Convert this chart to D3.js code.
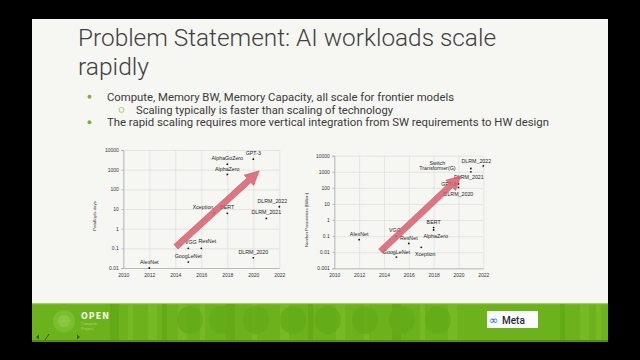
<!DOCTYPE html>
<html>

<head>
    <meta charset="utf-8">
    <style>
        body {
            margin: 0;
            background: #000;
        }

        svg {
            display: block;
        }

        .grid line {
            stroke: #d9d9d9;
            stroke-width: 0.6;
        }

        .grid .domain {
            display: none;
        }

        .axis text {
            font-family: "Liberation Sans", Arial, sans-serif;
            font-size: 5px;
            fill: #333;
        }

        .axis line,
        .axis .domain {
            stroke: #9a9a9a;
            stroke-width: 0.6;
        }

        .lbl {
            font-family: "Liberation Sans", Arial, sans-serif;
            font-size: 5.3px;
            fill: #222;
        }

        .axis-title {
            font-family: "Liberation Sans", Arial, sans-serif;
            font-size: 4.3px;
            fill: #333;
        }
    </style>
</head>

<body>
    <svg width="640" height="360"></svg>

    <script src="https://cdn.jsdelivr.net/npm/d3@7"></script>

    <script>
        // ---- data ----
        let xTicks = [2010, 2012, 2014, 2016, 2018, 2020, 2022]

        // left chart: compute
        let names1 = ["AlexNet", "VGG", "GoogLeNet", "ResNet", "Xception", "BERT",
            "AlphaGoZero", "AlphaZero", "GPT-3", "DLRM_2020", "DLRM_2021", "DLRM_2022"]
        let years1 = [2012, 2015, 2015, 2016, 2017, 2018, 2018, 2018, 2020, 2020, 2021, 2022]
        let pfsDays = [0.01, 0.1, 0.02, 0.1, 6.5, 6, 1900, 570, 3400, 0.033, 3.3, 13]
        let yTicks1 = [0.01, 0.1, 1, 10, 100, 1000, 10000]
        let yLabels1 = ["0.01", "0.1", "1", "10", "100", "1000", "10000"]

        // right chart: parameters
        let names2 = ["AlexNet", "VGG", "GoogLeNet", "ResNet", "Xception", "BERT",
            "AlphaZero", "GPT-3", "DLRM_2020", "Switch Transformer(G)", "DLRM_2021", "DLRM_2022"]
        let years2 = [2012, 2015, 2015, 2016, 2017, 2018, 2018, 2020, 2020, 2021, 2021, 2022]
        let paramsB = [0.06, 0.1, 0.005, 0.035, 0.02, 0.34, 0.24, 175, 107, 1600, 1000, 2300]
        let yTicks2 = [0.001, 0.01, 0.1, 1, 10, 100, 1000, 10000]
        let yLabels2 = ["0.001", "0.01", "0.1", "1", "10", "100", "1000", "10000"]

        // trend arrows, in data units [year, value]
        let arrow1 = [[2014.05, 0.12], [2020.46, 870]]
        let arrow2 = [[2013.74, 0.0117], [2020.2, 560]]

        let bullets = [
            "Compute, Memory BW, Memory Capacity, all scale for frontier models",
            "Scaling typically is faster than scaling of technology",
            "The rapid scaling requires more vertical integration from SW requirements to HW design"
        ]

        // label placement (dx, dy, anchor) per point -- just layout
        let place1 = {
            "AlexNet": [0, -6, "middle"], "VGG": [2.5, -6, "middle"], "GoogLeNet": [0, -6, "middle"],
            "ResNet": [6, -7, "middle"], "Xception": [-1, -6, "end"], "BERT": [0, -6, "middle"],
            "AlphaGoZero": [0, -6, "middle"], "AlphaZero": [0, -5.5, "middle"], "GPT-3": [0, -6.5, "middle"],
            "DLRM_2020": [0, -6, "middle"], "DLRM_2021": [0, -6, "middle"], "DLRM_2022": [-7, -6, "middle"]
        }
        let place2 = {
            "AlexNet": [0, -5.7, "middle"], "VGG": [-1.5, -6, "middle"], "GoogLeNet": [0, -5, "middle"],
            "ResNet": [0, -5.6, "middle"], "Xception": [4, 6.7, "middle"], "BERT": [0, -5.3, "middle"],
            "AlphaZero": [2, 6.3, "middle"], "GPT-3": [-2, 0, "end"], "DLRM_2020": [0, 7, "middle"],
            "Switch Transformer(G)": [-33.5, -3, "middle"], "DLRM_2021": [-2, 5, "middle"],
            "DLRM_2022": [-7, -5, "middle"]
        }

        let svg = d3.select("svg")

        // ---- slide frame ----
        svg.append("rect").attr("width", 640).attr("height", 360).attr("fill", "#000")
        svg.append("rect")
            .attr("x", 32).attr("y", 19).attr("width", 576).attr("height", 285)
            .attr("fill", "#f6f7f3")

        // title
        let title = svg.append("text")
            .style("font-family", "Roboto, 'Liberation Sans', sans-serif")
            .style("font-weight", 300)
            .style("font-size", "24px")
            .style("fill", "#404040")
        title.append("tspan").attr("x", 78).attr("y", 46)
            .attr("textLength", 418).attr("lengthAdjust", "spacingAndGlyphs")
            .text("Problem Statement: AI workloads scale")
        title.append("tspan").attr("x", 78).attr("y", 74.5)
            .attr("textLength", 71).attr("lengthAdjust", "spacingAndGlyphs")
            .text("rapidly")

        // bullets
        let bulletX = [107, 136, 107]
        let bulletY = [100.5, 113.5, 126]
        let bulletW = [347, 257, 442]
        bullets.forEach((b, i) => {
            svg.append("text")
                .attr("x", bulletX[i]).attr("y", bulletY[i])
                .attr("textLength", bulletW[i]).attr("lengthAdjust", "spacingAndGlyphs")
                .style("font-family", "Roboto, 'Liberation Sans', sans-serif")
                .style("font-size", "10.5px")
                .style("fill", "#3a3a3a")
                .text(b)
            if (i == 1) {
                svg.append("circle").attr("cx", 121.5).attr("cy", bulletY[i] - 3.6).attr("r", 2.5)
                    .attr("fill", "none").attr("stroke", "#9bc96a").attr("stroke-width", 0.9)
            } else {
                svg.append("circle").attr("cx", 89.5).attr("cy", bulletY[i] - 3.7).attr("r", 2)
                    .attr("fill", "#7ab32e")
            }
        })

        // ---- chart helper ----
        function drawChart(opt) {
            let x = d3.scaleLinear().domain([2010, 2022]).range(opt.xr)
            let y = d3.scaleLog().domain(opt.yd).range(opt.yr)
            let g = svg.append("g")

            // grid
            g.append("g").attr("class", "grid")
                .attr("transform", `translate(0,${opt.yr[0]})`)
                .call(d3.axisBottom(x).tickValues(xTicks).tickSize(-(opt.yr[0] - opt.yr[1])).tickFormat(""))
            g.append("g").attr("class", "grid")
                .attr("transform", `translate(${opt.xr[0]},0)`)
                .call(d3.axisLeft(y).tickValues(opt.yTicks).tickSize(-(opt.xr[1] - opt.xr[0])).tickFormat(""))

            // axes
            g.append("g").attr("class", "axis")
                .attr("transform", `translate(${opt.xr[0]},0)`)
                .call(d3.axisLeft(y).tickValues(opt.yTicks).tickSize(2).tickPadding(2.5)
                    .tickFormat((d, i) => opt.yLabels[i]))
            g.append("g").attr("class", "axis")
                .attr("transform", `translate(0,${opt.yr[0]})`)
                .call(d3.axisBottom(x).tickValues(xTicks).tickSize(0).tickPadding(5)
                    .tickFormat(d3.format("d")))

            g.append("text").attr("class", "axis-title")
                .attr("transform", `translate(${opt.titleX},${opt.titleY}) rotate(-90)`)
                .style("text-anchor", "middle")
                .text(opt.title)

            // points
            let pts = opt.names.map((n, i) => ({ name: n, year: opt.years[i], v: opt.vals[i] }))
            g.append("g").selectAll("circle")
                .data(pts)
                .join("circle")
                .attr("cx", d => x(d.year))
                .attr("cy", d => y(d.v))
                .attr("r", 0.9)
                .attr("fill", "#111")

            g.append("g").selectAll("text")
                .data(pts)
                .join("text")
                .attr("class", "lbl")
                .attr("x", d => x(d.year) + opt.place[d.name][0])
                .attr("y", d => y(d.v) + opt.place[d.name][1])
                .attr("dominant-baseline", "central")
                .style("text-anchor", d => opt.place[d.name][2])
                .each(function (d) {
                    let words = d.name.split(" ")
                    let t = d3.select(this)
                    if (words.length == 1) {
                        t.text(d.name)
                    } else {
                        words.forEach((w, k) => {
                            t.append("tspan")
                                .attr("x", x(d.year) + opt.place[d.name][0])
                                .attr("dy", k == 0 ? -2.8 : 5.6)
                                .text(w)
                        })
                    }
                })

            // trend arrow
            let p0 = [x(opt.arrow[0][0]), y(opt.arrow[0][1])]
            let p1 = [x(opt.arrow[1][0]), y(opt.arrow[1][1])]
            let ang = Math.atan2(p1[1] - p0[1], p1[0] - p0[0])
            let len = Math.hypot(p1[0] - p0[0], p1[1] - p0[1])
            let hl = 14, hw = 7, sw = 3
            let shape = [[0, -sw], [len - hl, -sw], [len - hl, -hw], [len, 0],
                [len - hl, hw], [len - hl, sw], [0, sw]]
            g.append("path")
                .attr("d", d3.line()(shape) + "Z")
                .attr("transform", `translate(${p0[0]},${p0[1]}) rotate(${ang * 180 / Math.PI})`)
                .attr("fill", "#d85f6b")
                .attr("fill-opacity", 0.85)
                .attr("stroke", "#c44e5b")
                .attr("stroke-width", 0.5)
        }

        drawChart({
            xr: [123.3, 279.3], yr: [268, 150], yd: [0.01, 10000],
            yTicks: yTicks1, yLabels: yLabels1,
            names: names1, years: years1, vals: pfsDays, place: place1,
            arrow: arrow1, title: "Petaflop/s-days", titleX: 96, titleY: 216
        })
        drawChart({
            xr: [334.3, 483.3], yr: [268.3, 155.7], yd: [0.001, 10000],
            yTicks: yTicks2, yLabels: yLabels2,
            names: names2, years: years2, vals: paramsB, place: place2,
            arrow: arrow2, title: "Number Parameters (Billion)", titleX: 308, titleY: 220
        })

        // ---- footer band ----
        let foot = svg.append("g")
        foot.append("rect").attr("x", 32).attr("y", 303).attr("width", 576).attr("height", 39)
            .attr("fill", "#6cb21c")
        foot.append("rect").attr("x", 32).attr("y", 303).attr("width", 576).attr("height", 1.2)
            .attr("fill", "#a6d35a")
        foot.append("rect").attr("x", 32).attr("y", 340).attr("width", 576).attr("height", 2)
            .attr("fill", "#4f8e12")
        // vertical stripes of the background pattern
        let stripes = [110, 128, 148, 162, 178, 200, 226, 252, 280, 308, 336, 364, 392, 420, 448, 560, 580, 596]
        foot.selectAll(".stripe")
            .data(stripes)
            .join("rect")
            .attr("x", d => d).attr("y", 304).attr("width", (d, i) => i % 2 ? 5 : 9).attr("height", 36)
            .attr("fill", (d, i) => i % 3 == 0 ? "#5fa615" : "#79bd2a")
            .attr("opacity", 0.7)
        let blobs = [190, 222, 256, 293, 328, 365, 402, 438]
        foot.selectAll(".blob")
            .data(blobs)
            .join("ellipse")
            .attr("cx", d => d).attr("cy", 320).attr("rx", 13).attr("ry", 14)
            .attr("fill", "#64ab18").attr("opacity", 0.8)

        // OCP logo bits
        foot.append("circle").attr("cx", 64).attr("cy", 321).attr("r", 11)
            .attr("fill", "#7ec133").attr("opacity", 0.8)
        foot.append("circle").attr("cx", 64).attr("cy", 321).attr("r", 6)
            .attr("fill", "#8fcb48").attr("opacity", 0.8)
        foot.append("text").attr("x", 81).attr("y", 319)
            .style("font-family", "'DejaVu Sans', sans-serif").style("font-weight", "bold")
            .style("font-size", "8px").style("letter-spacing", "1px").style("fill", "#f2f8ea")
            .text("OPEN")
        foot.append("text").attr("x", 81).attr("y", 325)
            .style("font-family", "'Liberation Sans', sans-serif").style("font-size", "4px")
            .style("fill", "#a9d776").text("Compute")
        foot.append("text").attr("x", 81).attr("y", 330)
            .style("font-family", "'Liberation Sans', sans-serif").style("font-size", "4px")
            .style("fill", "#a9d776").text("Project")
        foot.append("path").attr("d", "M36,337 l3,-2.5 v5 z M80,337 l-3,-2.5 v5 z")
            .attr("fill", "#2f5f0a")
        foot.append("line").attr("x1", 45).attr("y1", 340).attr("x2", 49).attr("y2", 334)
            .attr("stroke", "#2f5f0a").attr("stroke-width", 1)

        // Meta badge
        foot.append("rect").attr("x", 487).attr("y", 311).attr("width", 51).attr("height", 17)
            .attr("fill", "#fbfcfd")
        foot.append("text").attr("x", 489).attr("y", 323.5)
            .style("font-family", "'DejaVu Sans', sans-serif").style("font-size", "11px")
            .style("fill", "#0866e0").text("∞")
        foot.append("text").attr("x", 502).attr("y", 323.5)
            .style("font-family", "Roboto, sans-serif").style("font-weight", 500)
            .style("font-size", "10px").style("fill", "#1c2b33").text("Meta")
    </script>
</body>

</html>
